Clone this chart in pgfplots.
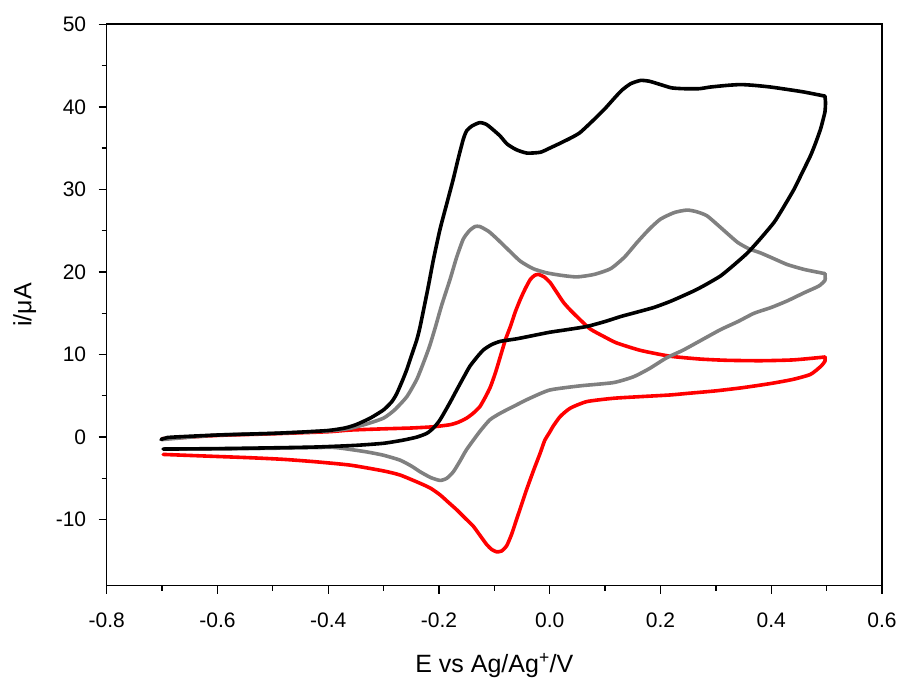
\documentclass[border=0pt]{standalone}
\usepackage{fontspec}
\setmainfont{Liberation Sans}
\usepackage{pgfplots}
\pgfplotsset{compat=1.18}

\definecolor{cvgray}{RGB}{128,128,128}
\definecolor{cvred}{RGB}{255,0,0}

\begin{document}
\begin{tikzpicture}
\begin{axis}[
  name=ax,
  scale only axis,
  width=775.3pt, height=561.4pt,
  xmin=-0.8, xmax=0.6,
  ymin=-18, ymax=50,
  xtick={-0.8,-0.6,-0.4,-0.2,0,0.2,0.4,0.6},
  ytick={-10,0,10,20,30,40,50},
  minor x tick num=1,
  minor y tick num=1,
  tick align=outside,
  tick pos=left,
  major tick length=8pt,
  minor tick length=5pt,
  axis line style={line width=1.6pt},
  every tick/.style={black, line width=1.3pt},
  /pgf/number format/assume math mode=true,
  ticklabel style={font=\fontsize{21}{25}\selectfont},
  xticklabel style={yshift=-16pt, /pgf/number format/.cd, fixed, fixed zerofill, precision=1},
  yticklabel style={xshift=-9pt, /pgf/number format/.cd, fixed, precision=0},
  scaled ticks=false,
  xlabel={E vs Ag/Ag\textsuperscript{+}/V},
  ylabel={i/μA},
  label style={font=\fontsize{25}{30}\selectfont},
  xlabel style={at={(axis description cs:0.5,-0.1551)}, anchor=base},
  ylabel style={at={(axis description cs:-0.1058,0.5)}, anchor=center},
  clip=false,
  every axis plot/.append style={line width=3.6pt, line join=round, line cap=round, smooth, tension=0.35},
]

% red voltammogram: forward scan
\addplot[cvred] coordinates {
(-0.700,-0.2) (-0.6,0.2) (-0.5,0.4) (-0.4,0.65) (-0.361,0.85) (-0.3,1.0)
(-0.25,1.1) (-0.21,1.25) (-0.18,1.5) (-0.165,1.8) (-0.15,2.3) (-0.138,2.9)
(-0.126,3.7) (-0.115,5.0) (-0.107,6.1) (-0.098,7.8) (-0.089,9.8) (-0.08,11.8)
(-0.071,13.4) (-0.062,15.2) (-0.053,16.7) (-0.044,18.0) (-0.035,19.1)
(-0.027,19.6) (-0.020,19.7) (-0.01,19.4) (0.001,18.7) (0.013,17.5)
(0.025,16.3) (0.037,15.4) (0.049,14.6) (0.073,13.1) (0.10,12.1) (0.121,11.4)
(0.164,10.5) (0.217,9.8) (0.272,9.45) (0.32,9.3) (0.381,9.25) (0.44,9.35)
(0.497,9.7)
};
% red voltammogram: reverse scan
\addplot[cvred] coordinates {
(0.497,9.7) (0.497,9.2) (0.49,8.6) (0.471,7.6) (0.44,7.0) (0.40,6.5) (0.35,6.0)
(0.30,5.6) (0.25,5.3) (0.217,5.1) (0.164,4.9) (0.115,4.7) (0.067,4.3)
(0.037,3.5) (0.019,2.5) (0.006,1.3) (0.0,0.6) (-0.009,-0.4) (-0.017,-1.9)
(-0.029,-4.0) (-0.042,-6.4) (-0.051,-8.2) (-0.060,-10.0) (-0.069,-11.8)
(-0.078,-13.2) (-0.087,-13.8) (-0.096,-13.9) (-0.105,-13.6) (-0.114,-13.0)
(-0.126,-11.9) (-0.138,-10.8) (-0.153,-9.8) (-0.168,-8.8) (-0.183,-7.9)
(-0.198,-7.0) (-0.215,-6.2) (-0.234,-5.6) (-0.27,-4.6) (-0.30,-4.1)
(-0.36,-3.4) (-0.421,-3.0) (-0.48,-2.7) (-0.541,-2.5) (-0.62,-2.3)
(-0.698,-2.1)
};

% grey voltammogram: forward scan
\addplot[cvgray] coordinates {
(-0.700,-0.3) (-0.6,0.25) (-0.5,0.45) (-0.4,0.75) (-0.361,1.05) (-0.33,1.6)
(-0.30,2.3) (-0.28,3.3) (-0.258,4.9) (-0.24,7.0) (-0.228,9.0) (-0.217,11.0)
(-0.207,13.2) (-0.195,16.0) (-0.18,19.1) (-0.168,21.8) (-0.156,24.0)
(-0.145,25.0) (-0.135,25.5) (-0.126,25.5) (-0.11,24.9) (-0.095,24.0)
(-0.075,22.7) (-0.053,21.3) (-0.03,20.4) (-0.006,19.9) (0.02,19.6)
(0.049,19.4) (0.08,19.7) (0.11,20.4) (0.135,21.8) (0.158,23.6) (0.18,25.2)
(0.2,26.4) (0.225,27.2) (0.248,27.5) (0.265,27.3) (0.284,26.8) (0.31,25.3)
(0.339,23.6) (0.36,22.8) (0.381,22.3) (0.405,21.6) (0.429,20.9) (0.46,20.3)
(0.497,19.8)
};
% grey voltammogram: reverse scan
\addplot[cvgray] coordinates {
(0.497,19.8) (0.497,19.0) (0.486,18.3) (0.46,17.5) (0.429,16.5) (0.40,15.7) (0.369,15.0)
(0.34,14.0) (0.308,13.0) (0.27,11.6) (0.24,10.5) (0.211,9.6) (0.18,8.3)
(0.151,7.3) (0.115,6.6) (0.054,6.2) (0.0,5.7) (-0.036,4.7) (-0.06,3.9)
(-0.089,2.9) (-0.108,2.1) (-0.126,0.7) (-0.15,-1.5) (-0.162,-2.9)
(-0.174,-4.2) (-0.186,-5.0) (-0.198,-5.25) (-0.215,-4.9) (-0.234,-4.2)
(-0.25,-3.5) (-0.27,-2.8) (-0.30,-2.2) (-0.33,-1.8) (-0.36,-1.5)
(-0.391,-1.25) (-0.45,-1.3) (-0.55,-1.4) (-0.698,-1.45)
};

% black voltammogram: forward scan
\addplot[black] coordinates {
(-0.702,-0.3) (-0.69,-0.05) (-0.65,0.1) (-0.6,0.25) (-0.55,0.35) (-0.5,0.45)
(-0.45,0.6) (-0.4,0.8) (-0.37,1.1) (-0.35,1.5) (-0.324,2.3) (-0.30,3.3)
(-0.285,4.3) (-0.276,5.3) (-0.265,7.0) (-0.258,8.2) (-0.25,9.8) (-0.24,11.8)
(-0.234,13.4) (-0.22,18) (-0.21,21.5) (-0.198,25.2) (-0.185,28.5)
(-0.174,31.3) (-0.165,33.8) (-0.156,36.1) (-0.15,37.1) (-0.14,37.7)
(-0.126,38.1) (-0.115,37.9) (-0.107,37.5) (-0.09,36.5) (-0.077,35.5)
(-0.06,34.8) (-0.041,34.4) (-0.017,34.5) (0.0,35.0) (0.019,35.6) (0.04,36.3)
(0.055,36.9) (0.079,38.4) (0.10,39.8) (0.116,41.0) (0.13,42.0) (0.146,42.8)
(0.164,43.2) (0.18,43.1) (0.2,42.7) (0.22,42.3) (0.242,42.2) (0.27,42.2)
(0.29,42.4) (0.32,42.6) (0.345,42.7) (0.37,42.6) (0.399,42.4) (0.43,42.1)
(0.459,41.8) (0.497,41.3)
};
% black voltammogram: reverse scan
\addplot[black] coordinates {
(0.497,41.3) (0.498,40.5) (0.497,39.4) (0.493,38.3) (0.489,37.3) (0.48,35.6) (0.471,34.1)
(0.455,31.9) (0.441,30.0) (0.42,27.6) (0.405,26.0) (0.38,24.0) (0.357,22.3)
(0.33,20.7) (0.308,19.5) (0.28,18.4) (0.26,17.7) (0.22,16.5) (0.188,15.7)
(0.15,15.0) (0.128,14.6) (0.1,14.0) (0.067,13.4) (0.03,13.0) (0.0,12.7)
(-0.03,12.3) (-0.06,11.9) (-0.089,11.6) (-0.105,11.2) (-0.119,10.6)
(-0.13,9.8) (-0.144,8.6) (-0.155,7.3) (-0.168,5.7) (-0.18,4.2) (-0.198,2.1)
(-0.21,1.1) (-0.222,0.45) (-0.24,0.0) (-0.264,-0.36) (-0.3,-0.75)
(-0.35,-1.0) (-0.421,-1.2) (-0.5,-1.3) (-0.6,-1.4) (-0.698,-1.45)
};
\end{axis}
\pgfresetboundingbox
\path ([shift={(-106.7pt,-95.3pt)}]ax.south west) rectangle ([shift={(19pt,24.3pt)}]ax.north east);
\end{tikzpicture}
\end{document}
